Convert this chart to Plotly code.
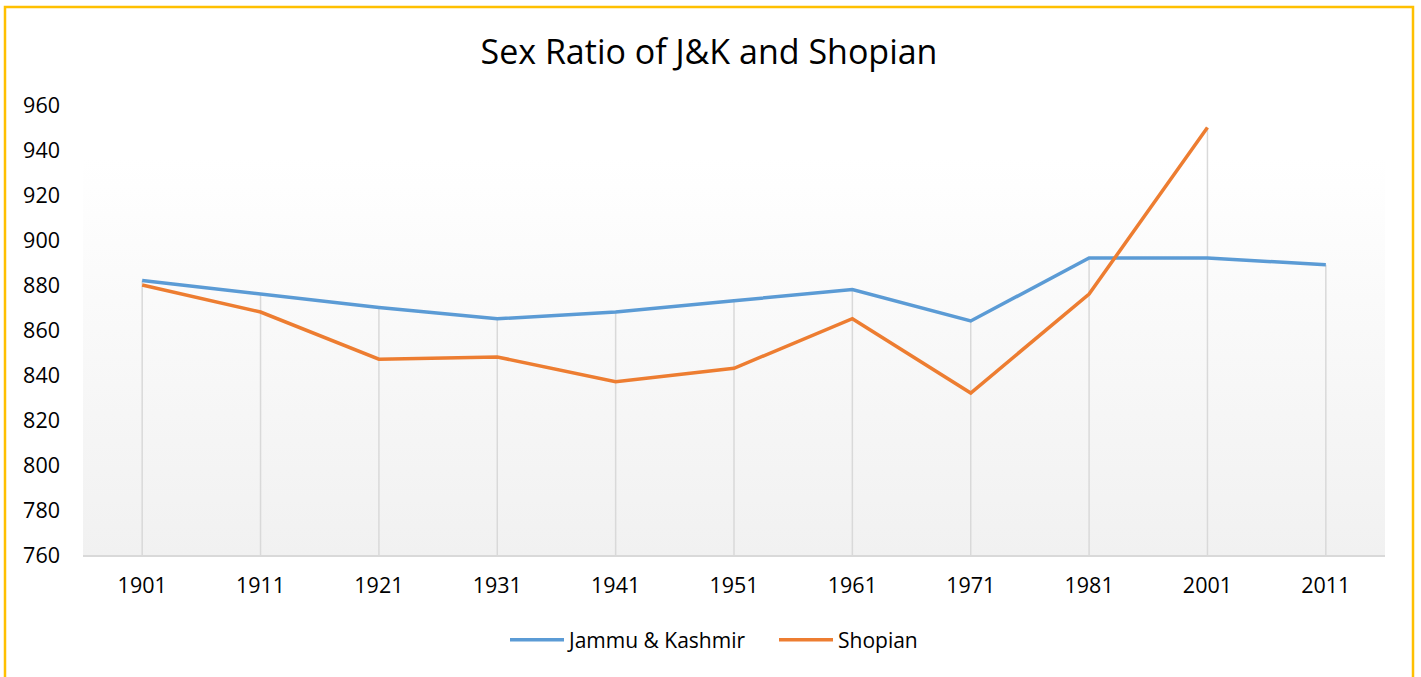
import plotly.graph_objects as go
import base64

# ---- data ----
years = ["1901", "1911", "1921", "1931", "1941", "1951", "1961", "1971", "1981", "2001", "2011"]
jk = [882, 876, 870, 865, 868, 873, 878, 864, 892, 892, 889]
shopian = [880, 868, 847, 848, 837, 843, 865, 832, 876, 950, None]
y_ticks = [760, 780, 800, 820, 840, 860, 880, 900, 920, 940, 960]

FONT = "Open Sans"
W, H = 1421, 677
L, T = 83, 105
plot_w, plot_h = 1302, 450
R = W - L - plot_w
B = H - T - plot_h

def px_x(page_x):
    return (page_x - L) / plot_w

def px_y(page_y):
    return (T + plot_h - page_y) / plot_h

# drop lines from the highest value at each category down to the axis
drop_x, drop_y = [], []
for yr, a, b in zip(years, jk, shopian):
    vals = [v for v in (a, b) if v is not None]
    drop_x += [yr, yr, None]
    drop_y += [y_ticks[0], max(vals), None]

fig = go.Figure()
fig.add_trace(go.Scatter(x=drop_x, y=drop_y, mode="lines",
                         line=dict(color="#d9d9d9", width=1.5),
                         hoverinfo="skip", showlegend=False))
fig.add_trace(go.Scatter(x=years, y=jk, mode="lines", name="Jammu & Kashmir",
                         line=dict(color="#5B9BD5", width=3.5)))
fig.add_trace(go.Scatter(x=years, y=shopian, mode="lines", name="Shopian",
                         line=dict(color="#ED7D31", width=3.5)))

# gradient background for the plot area
svg = ('<svg xmlns="http://www.w3.org/2000/svg" width="100" height="100" preserveAspectRatio="none">'
       '<defs><linearGradient id="g" x1="0" y1="0" x2="0" y2="1">'
       '<stop offset="0" stop-color="#ffffff"/><stop offset="1" stop-color="#f1f1f1"/>'
       '</linearGradient></defs><rect width="100" height="100" fill="url(#g)"/></svg>')
src = "data:image/svg+xml;base64," + base64.b64encode(svg.encode()).decode()
grad_top = px_y(158)

fig.update_layout(
    width=W, height=H,
    margin=dict(l=L, r=R, t=T, b=B),
    paper_bgcolor="white", plot_bgcolor="rgba(0,0,0,0)",
    font=dict(family=FONT, color="#000000"),
    title=dict(text="Sex Ratio of J&K and Shopian", x=709 / W, xref="container", xanchor="center",
               y=1 - 52 / H, yref="container", yanchor="middle",
               font=dict(family=FONT, size=34, color="#000000")),
    xaxis=dict(type="category", range=[-0.5, len(years) - 0.5], showgrid=False,
               showline=True, linecolor="#d9d9d9", linewidth=1.5, zeroline=False,
               ticks="", ticklabelstandoff=10, tickfont=dict(family=FONT, size=21.5, color="#000000")),
    yaxis=dict(range=[760, 960], tickvals=y_ticks, showgrid=False, zeroline=False,
               showline=False, ticks="", ticklabelstandoff=22,
               tickfont=dict(family=FONT, size=21.5, color="#000000")),
    legend=dict(orientation="h", x=px_x(505), xanchor="left", y=px_y(640), yanchor="middle",
                font=dict(family=FONT, size=21, color="#000000"), itemwidth=54,
                entrywidth=200, entrywidthmode="pixels",
                bgcolor="rgba(0,0,0,0)"),
    images=[dict(source=src, xref="paper", yref="paper", x=0, y=grad_top, sizex=1, sizey=grad_top,
                 xanchor="left", yanchor="top", sizing="stretch", layer="below")],
    shapes=[dict(type="rect", xref="paper", yref="paper",
                 x0=px_x(5), x1=px_x(1413),
                 y0=px_y(700), y1=px_y(7),
                 line=dict(color="#FFC000", width=2.5), fillcolor="rgba(0,0,0,0)", layer="above")],
    showlegend=True,
)

fig.write_html("out.html", config={"displayModeBar": False},
               post_script="document.body.style.margin='0';document.body.style.overflow='hidden';")
